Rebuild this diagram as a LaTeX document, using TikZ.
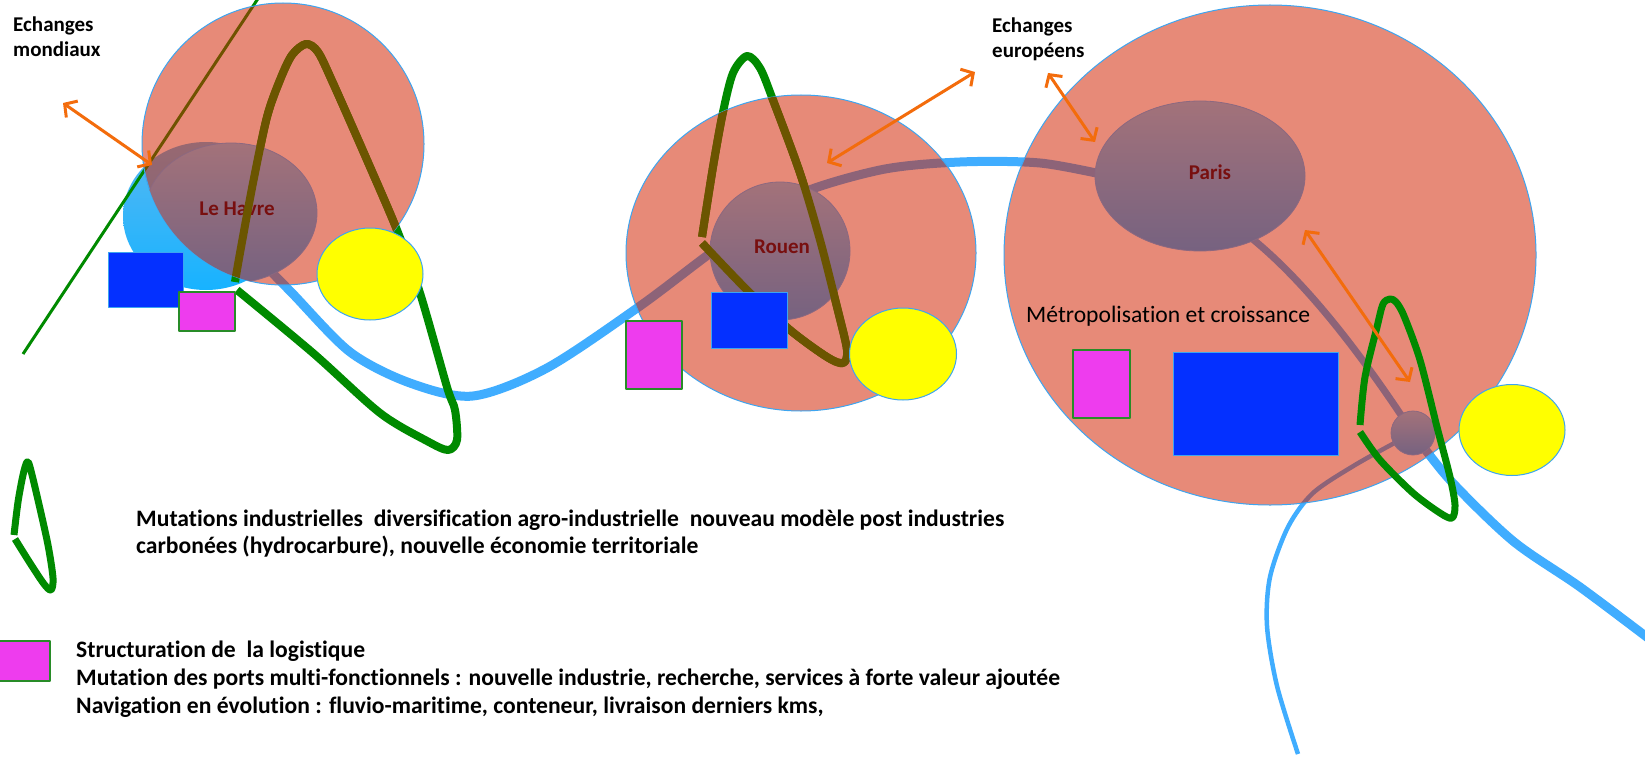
\documentclass[tikz,border=0pt]{standalone}
\usepackage{fontspec}
\setmainfont{Carlito}[Ligatures={NoCommon}]
\usetikzlibrary{arrows.meta,shapes.geometric}
\definecolor{zonec}{RGB}{211,34,0}
\definecolor{riverc}{RGB}{64,173,255}
\definecolor{gr}{RGB}{0,138,0}
\definecolor{brn}{RGB}{107,85,0}
\definecolor{orng}{RGB}{243,108,12}
\definecolor{cityT}{RGB}{163,114,122}
\definecolor{cityB}{RGB}{118,98,128}
\definecolor{cityline}{RGB}{140,104,128}
\definecolor{rimblue}{RGB}{61,165,240}
\definecolor{rectblue}{RGB}{4,48,255}
\definecolor{mag}{RGB}{238,60,238}
\definecolor{magline}{RGB}{40,140,40}
\definecolor{yel}{RGB}{255,255,0}
\definecolor{lblueT}{RGB}{86,183,242}
\definecolor{lblueB}{RGB}{23,179,255}
\definecolor{namec}{RGB}{120,15,15}
\begin{document}
\begin{tikzpicture}[x=1pt,y=-1pt,line join=round,
  zone/.style={fill=zonec,fill opacity=0.53,draw=rimblue,line width=1pt},
  city/.style={ellipse,top color=cityT,bottom color=cityB,draw=cityline,line width=0.8pt,inner sep=0pt,outer sep=0pt},
  cityname/.style={font=\bfseries\fontsize{21}{25}\selectfont,text=namec,inner sep=0pt},
  bluebox/.style={rectangle,fill=rectblue,draw=rimblue,line width=1pt,inner sep=0pt,outer sep=0pt,anchor=north west},
  magbox/.style={rectangle,fill=mag,draw=magline,line width=1.2pt,inner sep=0pt,outer sep=0pt,anchor=north west},
  yellowdisc/.style={ellipse,fill=yel,draw=rimblue,line width=1pt,inner sep=0pt,outer sep=0pt},
  water/.style={ellipse,top color=lblueT,bottom color=lblueB,inner sep=0pt,outer sep=0pt},
  river/.style={draw=riverc,line width=9pt},
  greenloop/.style={draw=gr,line width=8pt},
  brownloop/.style={draw=brn,line width=8pt},
  arr/.style={draw=orng,line width=3pt,>={Straight Barb[length=9pt,width=20pt]},<->},
  lbl/.style={font=\bfseries\fontsize{21}{25}\selectfont,inner sep=0pt,anchor=base west},
  legend/.style={font=\bfseries\fontsize{23.6}{28}\selectfont,inner sep=0pt,anchor=base west},
  plain/.style={font=\fontsize{23.6}{28}\selectfont,inner sep=0pt,anchor=base west}
]
\fill[white] (0,0) rectangle (1645,757);
\useasboundingbox (0,0) rectangle (1645,757);

% Le Havre water body
\node[water,minimum width=166pt,minimum height=148pt] (lhwater) at (206,216) {};

% river
\draw[river] plot[smooth] coordinates {(250,250) (292,293) (350,352) (410,383) (473,396) (547,368) (640,306) (712,252) (790,198) (880,170) (960,162) (1040,163) (1110,176)};
\coordinate (rp1) at (1230,222);
\coordinate (rp2) at (1413,433);
\draw[river,line width=7pt] (rp1) .. controls (1300,270) and (1365,360) .. (rp2);
\draw[river] plot[smooth] coordinates {(1413,433) (1450,480) (1513,541) (1580,587) (1652,641)};
\draw[river,line width=4.5pt] plot[smooth] coordinates {(1400,440) (1355,465) (1313,493) (1288,527) (1270,577) (1267,626) (1277,686) (1298,754)};

% green lines under the zones
\coordinate (gl1) at (23,354);
\coordinate (gl2) at (261,-6);
\draw[draw=gr,line width=3pt] (gl1) -- (gl2);
\draw[greenloop] plot[smooth] coordinates {(237,290) (313,353) (380,413) (427,441) (448,450) (457,440) (455,410) (447,387) (420,293) (397,230) (367,160) (333,83) (318,52) (306,44) (292,55) (280,80) (267,117) (253,183) (240,253) (235,282)};
\draw[greenloop] plot[smooth] coordinates {(702,243) (747,290) (790,330) (827,357) (843,363) (847,350) (837,307) (820,240) (800,173) (773,100) (760,68) (747,56) (733,73) (723,112) (713,167) (702,237)};

% zones
\draw[zone] (283,144) circle[radius=141pt];
\draw[zone] (801,253) ellipse[x radius=175pt,y radius=158pt];
\draw[zone] (1270,255) ellipse[x radius=266pt,y radius=250pt];

% cities
\begin{scope}
\clip (283,144) circle[radius=141pt];
\node[city,minimum width=172pt,minimum height=140pt] (lehavre) at (231,213) {};
\end{scope}
\node[cityname] (lhname) at (237,209) {Le Havre};
\node[city,minimum width=140pt,minimum height=138pt] (rouen) at (780,251) {};
\node[cityname] (rname) at (782,247) {Rouen};
\node[city,minimum width=210pt,minimum height=150pt] (paris) at (1200,176) {};
\node[cityname] (pname) at (1210,172) {Paris};

% loops seen through the zones (brown)
\begin{scope}
\clip (283,144) circle[radius=141pt];
\draw[brownloop] plot[smooth] coordinates {(237,290) (313,353) (380,413) (427,441) (448,450) (457,440) (455,410) (447,387) (420,293) (397,230) (367,160) (333,83) (318,52) (306,44) (292,55) (280,80) (267,117) (253,183) (240,253) (235,282)};
\end{scope}
\begin{scope}
\clip (801,253) ellipse[x radius=175pt,y radius=158pt];
\draw[brownloop] plot[smooth] coordinates {(702,243) (747,290) (790,330) (827,357) (843,363) (847,350) (837,307) (820,240) (800,173) (773,100) (760,68) (747,56) (733,73) (723,112) (713,167) (702,237)};
\end{scope}

% boxes and yellow discs
\node[bluebox,minimum width=75pt,minimum height=55pt] (lhblue) at (108,252) {};
\node[magbox,minimum width=56pt,minimum height=39pt] (lhmag) at (179,292) {};
\node[yellowdisc,minimum width=106pt,minimum height=92pt] (lhyel) at (370,274) {};
\node[bluebox,minimum width=76pt,minimum height=56pt] (rblue) at (711,292) {};
\node[magbox,minimum width=56pt,minimum height=68pt] (rmag) at (626,321) {};
\node[yellowdisc,minimum width=107pt,minimum height=92pt] (ryel) at (903,354) {};
\node[magbox,minimum width=57pt,minimum height=68pt] (pmag) at (1073,350) {};
\node[bluebox,minimum width=165pt,minimum height=103pt] (pblue) at (1173,352) {};
\node[yellowdisc,minimum width=106pt,minimum height=91pt] (pyel) at (1512,430) {};

% small port near Paris
\node[city,circle,minimum size=44pt] (port) at (1413,433) {};

% Paris loop (on top)
\draw[greenloop,line width=7pt] plot[smooth] coordinates {(1360,432) (1380,460) (1413,493) (1440,513) (1452,518) (1455,505) (1450,477) (1437,427) (1420,360) (1404,316) (1396,302) (1390,299) (1383,304) (1377,327) (1365,377) (1360,425)};

% arrows
\coordinate (a1s) at (63,103); \coordinate (a1e) at (152,165);
\coordinate (a2s) at (827,163); \coordinate (a2e) at (975,72);
\coordinate (a3s) at (1048,73); \coordinate (a3e) at (1095,142);
\coordinate (a4s) at (1305,230); \coordinate (a4e) at (1410,382);
\draw[arr] (a1s) -- (a1e);
\draw[arr] (a2s) -- (a2e);
\draw[arr] (a3s) -- (a3e);
\draw[arr] (a4s) -- (a4e);

% labels
\node[lbl] (em1) at (13,32) {Echanges};
\node[lbl] (em2) at (13,57) {mondiaux};
\node[lbl] (ee1) at (992,33) {Echanges};
\node[lbl] (ee2) at (992,58) {européens};
\node[plain] (metro) at (1026,322) {Métropolisation et croissance};

% legend
\draw[greenloop,line width=7pt] plot[smooth] coordinates {(15,539) (30,563) (44,584) (51,590) (53,578) (48,545) (38,500) (30,467) (27,462) (23,475) (18,502) (14,535)};
\node[legend] (l1) at (136,526) {Mutations industrielles~ diversification agro-industrielle~ nouveau modèle post industries};
\node[legend] (l2) at (136,553) {carbonées (hydrocarbure), nouvelle économie territoriale};
\node[magbox,minimum width=52pt,minimum height=40pt] (legmag) at (-2,641) {};
\node[legend] (l3) at (76,657) {Structuration de~ la logistique};
\node[legend] (l4) at (76,685) {Mutation des ports multi-fonctionnels : nouvelle industrie, recherche, services à forte valeur ajoutée};
\node[legend] (l5) at (76,713) {Navigation en évolution : fluvio-maritime, conteneur, livraison derniers kms,};
\end{tikzpicture}
\end{document}
